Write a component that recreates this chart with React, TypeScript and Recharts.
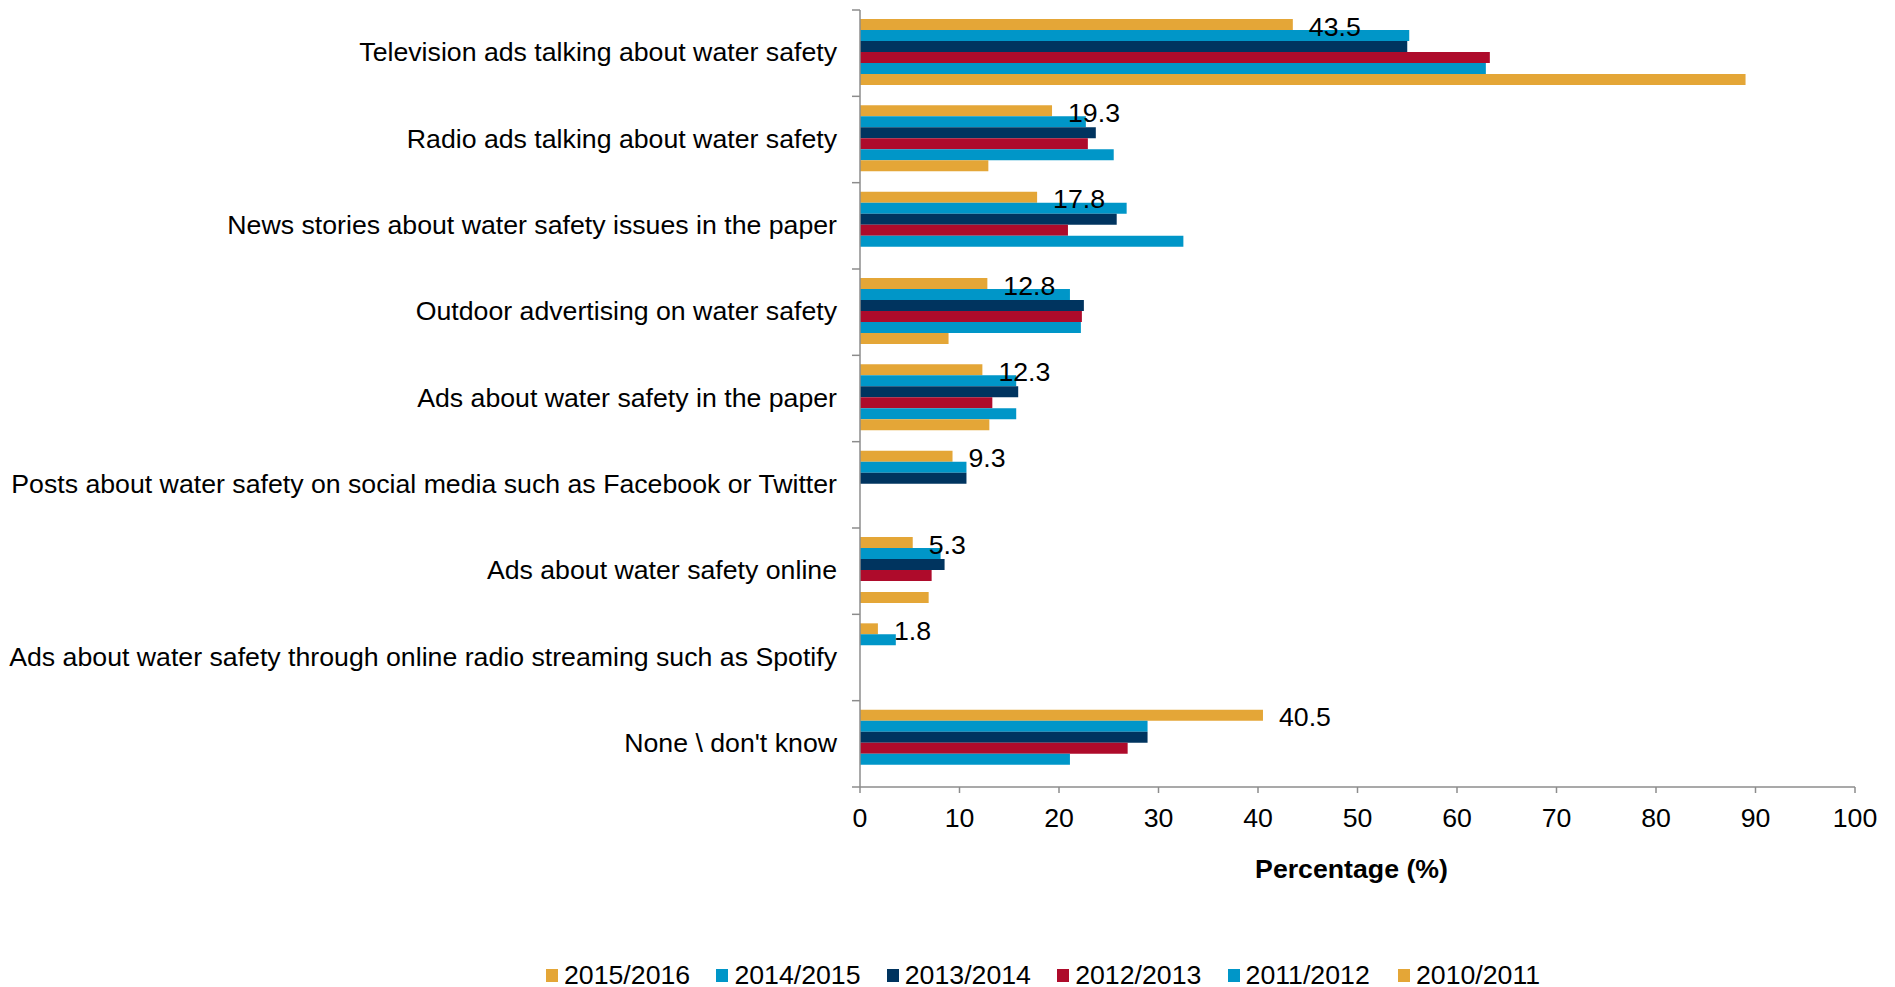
import { Bar, BarChart, LabelList, XAxis, YAxis } from "recharts";

const CATEGORIES = [
  "Television ads talking about water safety",
  "Radio ads talking about water safety",
  "News stories about water safety issues in the paper",
  "Outdoor advertising on water safety",
  "Ads about water safety in the paper",
  "Posts about water safety on social media such as Facebook or Twitter",
  "Ads about water safety online",
  "Ads about water safety through online radio streaming such as Spotify",
  "None \\ don't know",
];

const Y2015 = [43.5, 19.3, 17.8, 12.8, 12.3, 9.3, 5.3, 1.8, 40.5];
const Y2014 = [55.2, 22.7, 26.8, 21.1, 15.7, 10.7, 8.1, 3.6, 28.9];
const Y2013 = [55.0, 23.7, 25.8, 22.5, 15.9, 10.7, 8.5, null, 28.9];
const Y2012 = [63.3, 22.9, 20.9, 22.3, 13.3, null, 7.2, null, 26.9];
const Y2011 = [62.9, 25.5, 32.5, 22.2, 15.7, null, null, null, 21.1];
const Y2010 = [89.0, 12.9, null, 8.9, 13.0, null, 6.9, null, null];

const X_TICKS = [0, 10, 20, 30, 40, 50, 60, 70, 80, 90, 100];

const SERIES = [
  { key: "y2015", name: "2015/2016", color: "#E4A637" },
  { key: "y2014", name: "2014/2015", color: "#0096C8" },
  { key: "y2013", name: "2013/2014", color: "#00345F" },
  { key: "y2012", name: "2012/2013", color: "#AE0B2B" },
  { key: "y2011", name: "2011/2012", color: "#0096C8" },
  { key: "y2010", name: "2010/2011", color: "#E4A637" },
];

const data = CATEGORIES.map((name, i) => ({
  name,
  y2015: Y2015[i],
  y2014: Y2014[i],
  y2013: Y2013[i],
  y2012: Y2012[i],
  y2011: Y2011[i],
  y2010: Y2010[i],
}));

const FONT = "'Liberation Sans', Arial, sans-serif";
const FS = 26.7;
const AXIS = "#8c8c8c";

function CategoryTick(props: any) {
  const { x, y, payload, index } = props;
  const half = payload?.offset ?? 43.1;
  const last = index === CATEGORIES.length - 1;
  return (
    <g>
      <line x1={x - 8} x2={x} y1={y - half} y2={y - half} stroke={AXIS} strokeWidth={1.5} />
      {last && <line x1={x - 8} x2={x} y1={y + half} y2={y + half} stroke={AXIS} strokeWidth={1.5} />}
      <text
        x={x - 23}
        y={y - 1}
        textAnchor="end"
        dominantBaseline="central"
        fontFamily={FONT}
        fontSize={FS}
        fill="#000"
      >
        {payload.value}
      </text>
    </g>
  );
}

function ValueLabel(props: any) {
  const { x, y, width, height, value } = props;
  if (value == null) return null;
  return (
    <text
      x={x + width + 16}
      y={y + height / 2 + 2}
      dominantBaseline="central"
      fontFamily={FONT}
      fontSize={FS}
      fill="#000"
    >
      {Number(value).toFixed(1)}
    </text>
  );
}

export default function App() {
  return (
    <div style={{ position: "relative", width: 1880, height: 979, fontFamily: FONT }}>
      <BarChart
        width={1880}
        height={979}
        data={data}
        layout="vertical"
        margin={{ top: 2, right: 33, bottom: 100, left: 0 }}
        barCategoryGap={9}
        barGap={0}
      >
        <XAxis
          type="number"
          domain={[0, 100]}
          ticks={X_TICKS}
          interval={0}
          height={100}
          stroke={AXIS}
          strokeWidth={1.5}
          tickSize={6}
          tickMargin={15}
          tick={{ fill: "#000", fontSize: FS, fontFamily: FONT }}
          label={{
            value: "Percentage (%)",
            position: "insideTop",
            offset: 72,
            dx: -6,
            fill: "#000",
            fontSize: FS,
            fontWeight: "bold",
            fontFamily: FONT,
          }}
        />
        <YAxis
          type="category"
          dataKey="name"
          width={852}
          stroke={AXIS}
          strokeWidth={1.5}
          tickLine={false}
          tickSize={0}
          tickMargin={0}
          interval={0}
          tick={<CategoryTick />}
        />
        {SERIES.map((s) => (
          <Bar key={s.key} dataKey={s.key} name={s.name} fill={s.color} isAnimationActive={false}>
            {s.key === "y2015" && <LabelList dataKey="y2015" content={<ValueLabel />} />}
          </Bar>
        ))}
      </BarChart>
      <div
        style={{
          position: "absolute",
          left: 538,
          top: 951,
          height: 32,
          display: "flex",
          alignItems: "center",
          fontSize: FS,
          color: "#000",
          whiteSpace: "nowrap",
        }}
      >
        {SERIES.map((s) => (
          <div key={s.key} style={{ display: "flex", alignItems: "center", width: 170.4 }}>
            <span style={{ width: 12, height: 13, background: s.color, marginRight: 6, display: "inline-block" }} />
            <span>{s.name}</span>
          </div>
        ))}
      </div>
    </div>
  );
}
